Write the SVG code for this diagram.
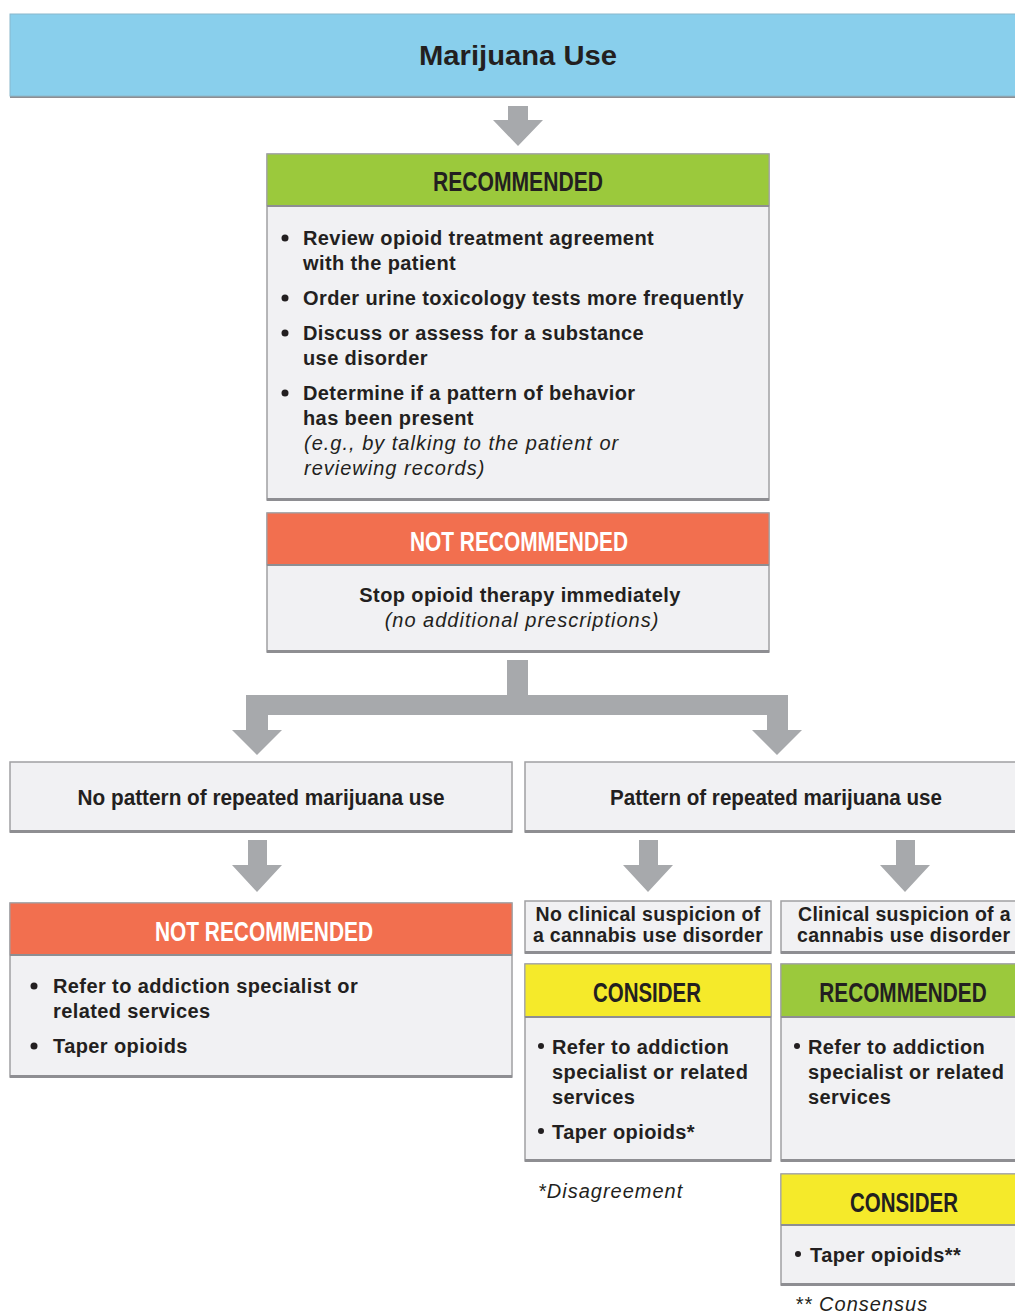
<svg xmlns="http://www.w3.org/2000/svg" width="1015" height="1314" viewBox="0 0 1015 1314">
<style>
.box{fill:#F1F1F3;stroke:#A0A0A3;stroke-width:1.5}
.shadow{fill:#8E8E92}
.hdr{font-family:"Liberation Sans Narrow","Liberation Sans",sans-serif;font-weight:bold;font-size:27px;text-anchor:middle}
.blk{fill:#231F20}
.wht{fill:#FFFFFF}
.body{font-family:"Liberation Sans",Arial,sans-serif;font-weight:bold;font-size:20px;letter-spacing:0.4px;fill:#231F20}
.sm{font-size:19.5px;letter-spacing:0.3px}
.ital{font-family:"Liberation Sans",Arial,sans-serif;font-style:italic;font-size:20px;letter-spacing:1px;fill:#231F20}
.cond{font-family:"Liberation Sans Narrow","Liberation Sans",sans-serif;font-weight:bold;font-size:22px;fill:#231F20;text-anchor:middle}
.arr{fill:#A7A9AC}
.green{fill:#9BC93C}
.orange{fill:#F26F4F}
.yellow{fill:#F5EA2A}
.blue{fill:#89CFEC}
.mid{text-anchor:middle}
</style>

<g id="connectors">
  <path class="arr" d="M508,106 H528 V120 H543 L518,146 L493,120 H508 Z"/>
  <path class="arr" d="M507,660 H528 V695 H788 V730 H802 L777,755 L752,730 H767 V715 H268 V730 H282 L257,755 L232,730 H246 V695 H507 Z"/>
  <path class="arr" d="M248,840 H267 V865 H282 L257,892 L232,865 H248 Z"/>
  <path class="arr" d="M639,840 H658 V865 H673 L648,892 L623,865 H639 Z"/>
  <path class="arr" d="M896,840 H915 V865 H930 L905,892 L880,865 H896 Z"/>
</g>

<g id="marijuana-use">
  <rect class="shadow" x="10" y="95" width="1010" height="3"/>
  <rect class="blue" x="10" y="14" width="1010" height="82" stroke="#8AB8CC" stroke-width="1"/>
  <text class="hdr blk" x="518" y="65" font-size="32" textLength="198" lengthAdjust="spacingAndGlyphs">Marijuana Use</text>
</g>

<g id="recommended-1">
  <rect class="box" x="267" y="154" width="502" height="346"/>
  <rect class="shadow" x="267" y="498" width="502" height="3"/>
  <rect class="green" x="267" y="154" width="502" height="52" stroke="#A0A0A3" stroke-width="1"/>
  <rect class="shadow" x="267" y="205" width="502" height="2"/>
  <text class="hdr blk" x="518" y="191" textLength="170" lengthAdjust="spacingAndGlyphs">RECOMMENDED</text>
  <g class="body">
    <circle cx="285" cy="238" r="3.5" class="blk"/>
    <text x="303" y="245">Review opioid treatment agreement</text>
    <text x="303" y="270">with the patient</text>
    <circle cx="285" cy="298" r="3.5" class="blk"/>
    <text x="303" y="305">Order urine toxicology tests more frequently</text>
    <circle cx="285" cy="333" r="3.5" class="blk"/>
    <text x="303" y="340">Discuss or assess for a substance</text>
    <text x="303" y="365">use disorder</text>
    <circle cx="285" cy="393" r="3.5" class="blk"/>
    <text x="303" y="400">Determine if a pattern of behavior</text>
    <text x="303" y="425">has been present</text>
  </g>
  <text class="ital" x="304" y="450">(e.g., by talking to the patient or</text>
  <text class="ital" x="304" y="475">reviewing records)</text>
</g>

<g id="not-recommended-1">
  <rect class="box" x="267" y="513" width="502" height="139"/>
  <rect class="shadow" x="267" y="650" width="502" height="3"/>
  <rect class="orange" x="267" y="513" width="502" height="52" stroke="#A0A0A3" stroke-width="1"/>
  <rect class="shadow" x="267" y="564" width="502" height="2"/>
  <text class="hdr wht" x="519" y="551" textLength="218" lengthAdjust="spacingAndGlyphs">NOT RECOMMENDED</text>
  <text class="body mid" x="520" y="602">Stop opioid therapy immediately</text>
  <text class="ital mid" x="522" y="627">(no additional prescriptions)</text>
</g>

<g id="no-pattern">
  <rect class="box" x="10" y="762" width="502" height="70"/>
  <rect class="shadow" x="10" y="830" width="502" height="3"/>
  <text class="cond" x="261" y="805" textLength="367" lengthAdjust="spacingAndGlyphs">No pattern of repeated marijuana use</text>
</g>

<g id="pattern">
  <rect class="box" x="525" y="762" width="495" height="70"/>
  <rect class="shadow" x="525" y="830" width="495" height="3"/>
  <text class="cond" x="776" y="805" textLength="332" lengthAdjust="spacingAndGlyphs">Pattern of repeated marijuana use</text>
</g>

<g id="not-recommended-2">
  <rect class="box" x="10" y="903" width="502" height="174"/>
  <rect class="shadow" x="10" y="1075" width="502" height="3"/>
  <rect class="orange" x="10" y="903" width="502" height="52" stroke="#A0A0A3" stroke-width="1"/>
  <rect class="shadow" x="10" y="954" width="502" height="2"/>
  <text class="hdr wht" x="264" y="941" textLength="218" lengthAdjust="spacingAndGlyphs">NOT RECOMMENDED</text>
  <g class="body">
    <circle cx="34" cy="986" r="3.5" class="blk"/>
    <text x="53" y="993">Refer to addiction specialist or</text>
    <text x="53" y="1018">related services</text>
    <circle cx="34" cy="1046" r="3.5" class="blk"/>
    <text x="53" y="1053">Taper opioids</text>
  </g>
</g>

<g id="no-clinical-suspicion">
  <rect class="box" x="525" y="901" width="246" height="52"/>
  <rect class="shadow" x="525" y="951" width="246" height="3"/>
  <text class="body sm mid" x="648" y="921">No clinical suspicion of</text>
  <text class="body sm mid" x="648" y="942">a cannabis use disorder</text>
</g>

<g id="clinical-suspicion">
  <rect class="box" x="781" y="901" width="239" height="52"/>
  <rect class="shadow" x="781" y="951" width="239" height="3"/>
  <text class="body sm" x="798" y="921">Clinical suspicion of a</text>
  <text class="body sm" x="797" y="942">cannabis use disorder</text>
</g>

<g id="consider-1">
  <rect class="box" x="525" y="964" width="246" height="197"/>
  <rect class="shadow" x="525" y="1159" width="246" height="3"/>
  <rect class="yellow" x="525" y="964" width="246" height="53" stroke="#A0A0A3" stroke-width="1"/>
  <rect class="shadow" x="525" y="1016" width="246" height="2"/>
  <text class="hdr blk" x="647" y="1002" textLength="108" lengthAdjust="spacingAndGlyphs">CONSIDER</text>
  <g class="body">
    <circle cx="541" cy="1046" r="3" class="blk"/>
    <text x="552" y="1054">Refer to addiction</text>
    <text x="552" y="1079">specialist or related</text>
    <text x="552" y="1104">services</text>
    <circle cx="541" cy="1131" r="3" class="blk"/>
    <text x="552" y="1139">Taper opioids*</text>
  </g>
</g>

<g id="recommended-2">
  <rect class="box" x="781" y="964" width="239" height="197"/>
  <rect class="shadow" x="781" y="1159" width="239" height="3"/>
  <rect class="green" x="781" y="964" width="239" height="53" stroke="#A0A0A3" stroke-width="1"/>
  <rect class="shadow" x="781" y="1016" width="239" height="2"/>
  <text class="hdr blk" transform="translate(903,1002) scale(0.77,1)" x="0" y="0">RECOMMENDED</text>
  <g class="body">
    <circle cx="797" cy="1046" r="3" class="blk"/>
    <text x="808" y="1054">Refer to addiction</text>
    <text x="808" y="1079">specialist or related</text>
    <text x="808" y="1104">services</text>
  </g>
</g>

<text id="disagreement" class="ital" x="538" y="1198">*Disagreement</text>

<g id="consider-2">
  <rect class="box" x="781" y="1174" width="239" height="111"/>
  <rect class="shadow" x="781" y="1283" width="239" height="3"/>
  <rect class="yellow" x="781" y="1174" width="239" height="51" stroke="#A0A0A3" stroke-width="1"/>
  <rect class="shadow" x="781" y="1224" width="239" height="2"/>
  <text class="hdr blk" x="904" y="1212" textLength="108" lengthAdjust="spacingAndGlyphs">CONSIDER</text>
  <g class="body">
    <circle cx="798" cy="1254" r="3" class="blk"/>
    <text x="810" y="1262">Taper opioids**</text>
  </g>
</g>

<text id="consensus" class="ital" x="795" y="1311">** Consensus</text>
</svg>
